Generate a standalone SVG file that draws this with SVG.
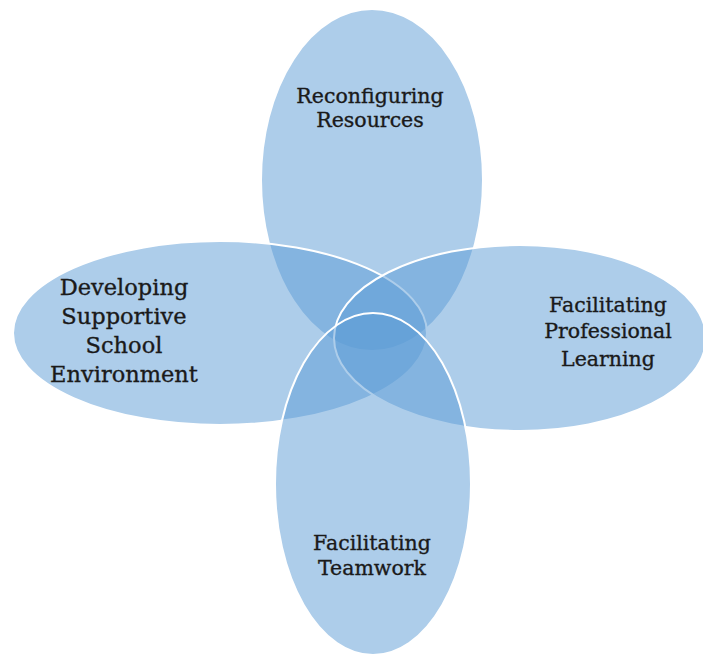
<svg xmlns="http://www.w3.org/2000/svg" width="703" height="657" viewBox="0 0 703 657">
  <style>
    .petal { fill: #5b9bd5; fill-opacity: 0.5; stroke: #ffffff; stroke-width: 2; }
    .label { font-family: "DejaVu Serif", "Liberation Serif", serif; font-size: 20.5px; fill: #1a1a1a; stroke: #1a1a1a; stroke-width: 0.35; text-anchor: middle; }
    .big { font-size: 22.5px; }
  </style>
  <rect width="703" height="657" fill="#ffffff"/>
  <g id="connectors"></g>
  <g id="reconfiguring-resources">
    <ellipse class="petal" cx="372" cy="180" rx="111" ry="171"/>
  </g>
  <g id="supportive-environment">
    <ellipse class="petal" cx="220" cy="333" rx="207" ry="92"/>
  </g>
  <g id="professional-learning">
    <ellipse class="petal" cx="520" cy="338" rx="186" ry="93"/>
  </g>
  <g id="teamwork">
    <ellipse class="petal" cx="373" cy="484" rx="98" ry="171"/>
  </g>
  <g id="labels">
    <text class="label" x="370" y="103">Reconfiguring</text>
    <text class="label" x="370" y="127">Resources</text>
    <text class="label big" x="124" y="295">Developing</text>
    <text class="label big" x="124" y="324">Supportive</text>
    <text class="label big" x="124" y="353">School</text>
    <text class="label big" x="124" y="382">Environment</text>
    <text class="label" x="608" y="312">Facilitating</text>
    <text class="label" x="608" y="338">Professional</text>
    <text class="label" x="608" y="366">Learning</text>
    <text class="label" x="372" y="550">Facilitating</text>
    <text class="label" x="372" y="575">Teamwork</text>
  </g>
</svg>
